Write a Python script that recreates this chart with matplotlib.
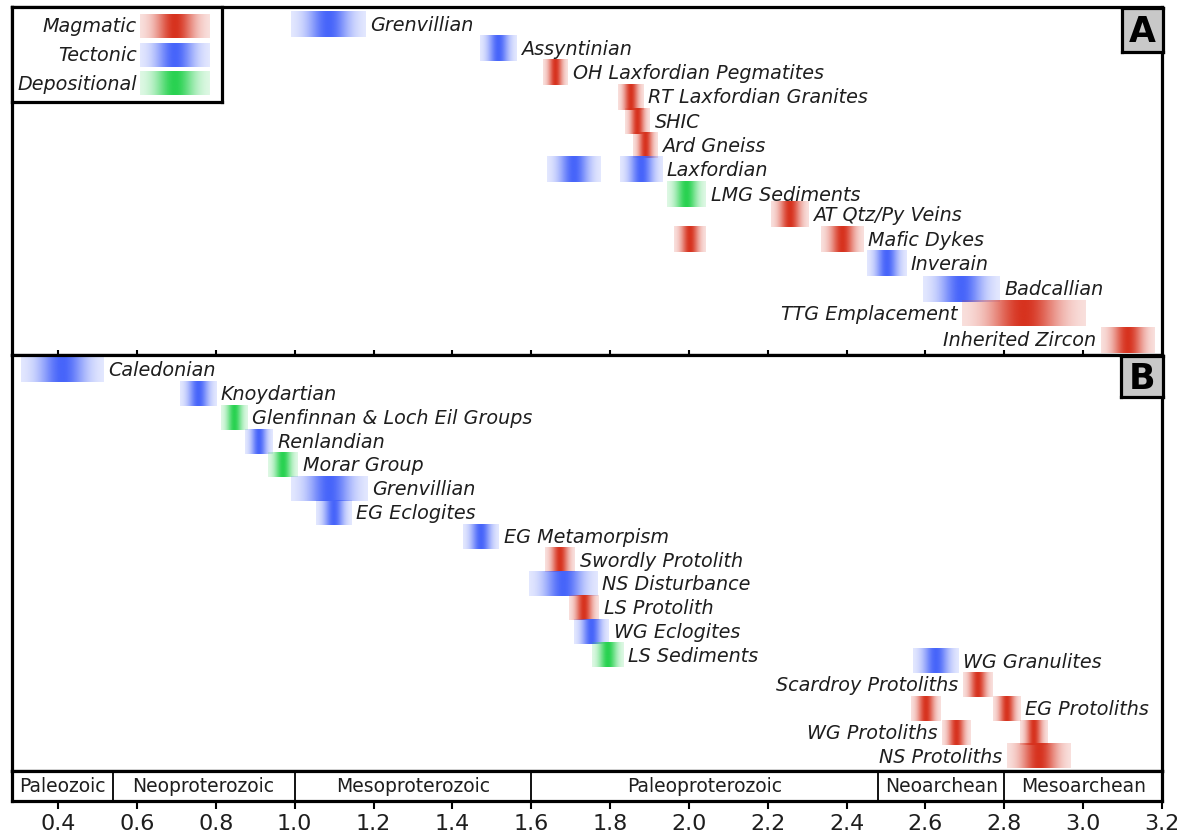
import numpy as np
import matplotlib
matplotlib.use("Agg")
import matplotlib.pyplot as plt
from matplotlib.colors import to_rgb

# ---------------- data ----------------
kind_colors = {"Magmatic": "#d7321e", "Tectonic": "#4664fa", "Depositional": "#28d250"}
legend_kinds = ["Magmatic", "Tectonic", "Depositional"]

# Panel A (Ga)
a_names = ["Grenvillian", "Assyntinian", "OH Laxfordian Pegmatites", "RT Laxfordian Granites",
           "SHIC", "Ard Gneiss", "Laxfordian", "LMG Sediments", "AT Qtz/Py Veins",
           "Mafic Dykes", "Inverain", "Badcallian", "TTG Emplacement", "Inherited Zircon"]
a_kind = ["Tectonic", "Tectonic", "Magmatic", "Magmatic", "Magmatic", "Magmatic", "Tectonic",
          "Depositional", "Magmatic", "Magmatic", "Tectonic", "Tectonic", "Magmatic", "Magmatic"]
a_start = [0.991, 1.470, 1.630, 1.820, 1.838, 1.858, 1.825, 1.945, 2.208, 2.335, 2.452, 2.594, 2.693, 3.045]
a_end   = [1.179, 1.562, 1.693, 1.884, 1.901, 1.919, 1.932, 2.043, 2.302, 2.442, 2.551, 2.789, 3.007, 3.180]
a_row   = [0, 1, 2, 3, 4, 5, 6, 7, 7.85, 8.85, 9.85, 10.9, 11.9, 13]
a_side  = ["r", "r", "r", "r", "r", "r", "r", "r", "r", "r", "r", "r", "l", "l"]
# extra (unlabelled) bars in panel A
a_x_kind  = ["Tectonic", "Magmatic"]
a_x_start = [1.640, 1.962]
a_x_end   = [1.775, 2.043]
a_x_row   = [6, 8.85]

# Panel B (Ga)
b_names = ["Caledonian", "Knoydartian", "Glenfinnan & Loch Eil Groups", "Renlandian", "Morar Group",
           "Grenvillian", "EG Eclogites", "EG Metamorpism", "Swordly Protolith", "NS Disturbance",
           "LS Protolith", "WG Eclogites", "LS Sediments", "WG Granulites", "Scardroy Protoliths",
           "EG Protoliths", "WG Protoliths", "NS Protoliths"]
b_kind = ["Tectonic", "Tectonic", "Depositional", "Tectonic", "Depositional", "Tectonic", "Tectonic",
          "Tectonic", "Magmatic", "Tectonic", "Magmatic", "Tectonic", "Depositional", "Tectonic",
          "Magmatic", "Magmatic", "Magmatic", "Magmatic"]
b_start = [0.306, 0.709, 0.813, 0.874, 0.933, 0.991, 1.054, 1.427, 1.635, 1.594, 1.696, 1.709, 1.754,
           2.568, 2.695, 2.771, 2.642, 2.807]
b_end   = [0.514, 0.801, 0.879, 0.945, 1.009, 1.184, 1.143, 1.518, 1.711, 1.767, 1.772, 1.797, 1.833,
           2.683, 2.771, 2.840, 2.715, 2.967]
b_row   = [0, 1, 2, 3, 4, 5, 6, 7, 8, 9, 10, 11, 12, 12.25, 13.25, 14.25, 15.25, 16.25]
b_side  = ["r"] * 14 + ["l", "r", "l", "l"]
b_x_kind  = ["Magmatic", "Magmatic"]
b_x_start = [2.563, 2.840]
b_x_end   = [2.639, 2.911]
b_x_row   = [14.25, 15.25]

# Eras
era_names = ["Paleozoic", "Neoproterozoic", "Mesoproterozoic", "Paleoproterozoic", "Neoarchean", "Mesoarchean"]
era_bounds = [0.283, 0.538, 1.0, 1.6, 2.48, 2.8, 3.2]

tick_vals = [0.4, 0.6, 0.8, 1.0, 1.2, 1.4, 1.6, 1.8, 2.0, 2.2, 2.4, 2.6, 2.8, 3.0, 3.2]
xlim = (0.283, 3.2)

# ---------------- drawing ----------------
W, H = 1198, 837
fig = plt.figure(figsize=(W / 100, H / 100), dpi=100)
fig.patch.set_facecolor("white")

def fx(px): return px / W
def fy(py): return 1 - py / H

LW = 2.3
TXT = "#1e1e1e"
FS = 13.8

def grad_bar(ax, x0, x1, y, h, color):
    n = 256
    t = np.linspace(-1, 1, n)
    alpha = 0.12 + 0.88 * np.exp(-(t / 0.55) ** 2)
    rgba = np.zeros((2, n, 4))
    rgba[..., :3] = to_rgb(color)
    rgba[..., 3] = alpha
    ax.imshow(rgba, extent=[x0, x1, y + h / 2, y - h / 2], aspect="auto",
              interpolation="bilinear", zorder=2)

def style(ax):
    for s in ax.spines.values():
        s.set_linewidth(LW)
        s.set_color("black")

BAR_H = 1.04
GAP = 0.012

def draw_panel(ax, names, kinds, starts, ends, rows, sides, xk, xs, xe, xr, ylim):
    for k, s, e, r in zip(xk, xs, xe, xr):
        grad_bar(ax, s, e, r, BAR_H, kind_colors[k])
    for nm, k, s, e, r, sd in zip(names, kinds, starts, ends, rows, sides):
        grad_bar(ax, s, e, r, BAR_H, kind_colors[k])
        if sd == "r":
            ax.text(e + GAP, r, nm, ha="left", va="center", fontsize=FS, style="italic", color=TXT)
        else:
            ax.text(s - GAP, r, nm, ha="right", va="center", fontsize=FS, style="italic", color=TXT)
    ax.set_xlim(*xlim)
    ax.set_ylim(*ylim)
    style(ax)

axA = fig.add_axes([fx(12), fy(356), fx(1162) - fx(12), fy(8) - fy(356)])
draw_panel(axA, a_names, a_kind, a_start, a_end, a_row, a_side,
           a_x_kind, a_x_start, a_x_end, a_x_row, (13.62, -0.70))
axA.set_yticks([])
axA.set_xticks(tick_vals[:-1])
axA.tick_params(axis="x", direction="inout", length=7, width=1.5, labelbottom=False)

axB = fig.add_axes([fx(12), fy(772), fx(1162) - fx(12), fy(356) - fy(772)])
draw_panel(axB, b_names, b_kind, b_start, b_end, b_row, b_side,
           b_x_kind, b_x_start, b_x_end, b_x_row, (16.88, -0.63))
axB.set_xticks([])
axB.set_yticks([])

axE = fig.add_axes([fx(12), fy(802), fx(1162) - fx(12), fy(772) - fy(802)])
axE.set_xlim(*xlim)
axE.set_ylim(0, 1)
style(axE)
for b in era_bounds[1:-1]:
    axE.axvline(b, color="black", lw=1.3)
for nm, lo, hi in zip(era_names, era_bounds[:-1], era_bounds[1:]):
    axE.text((lo + hi) / 2, 0.5, nm, ha="center", va="center", fontsize=13.5, color=TXT)
axE.set_yticks([])
axE.set_xticks(tick_vals)
axE.set_xticklabels([f"{v:.1f}" for v in tick_vals], fontsize=16, color=TXT)
axE.tick_params(axis="x", direction="out", length=6, width=1.5, pad=3)

# Legend inset
axL = fig.add_axes([fx(12), fy(103), fx(222) - fx(12), fy(8) - fy(103)])
axL.set_xticks([]); axL.set_yticks([])
style(axL)
for i, k in enumerate(legend_kinds):
    yc = 19 + i * 28.5
    grad_bar(axL, 128, 198, yc, 24, kind_colors[k])
    axL.text(125, yc, k, ha="right", va="center", fontsize=FS, style="italic", color=TXT)
axL.set_xlim(0, 210)
axL.set_ylim(95, 0)

# Panel letter boxes
for letter, (l, t, r, b) in zip(["A", "B"], [(1122, 9, 1163, 53), (1121, 357, 1163, 398)]):
    axT = fig.add_axes([fx(l), fy(b), fx(r) - fx(l), fy(t) - fy(b)])
    axT.set_facecolor("#c8c8c8")
    axT.set_xticks([]); axT.set_yticks([])
    style(axT)
    axT.text(0.5, 0.47, letter, ha="center", va="center", fontsize=25, fontweight="bold",
             color="black", transform=axT.transAxes)

fig.savefig("out.png", dpi=100)
